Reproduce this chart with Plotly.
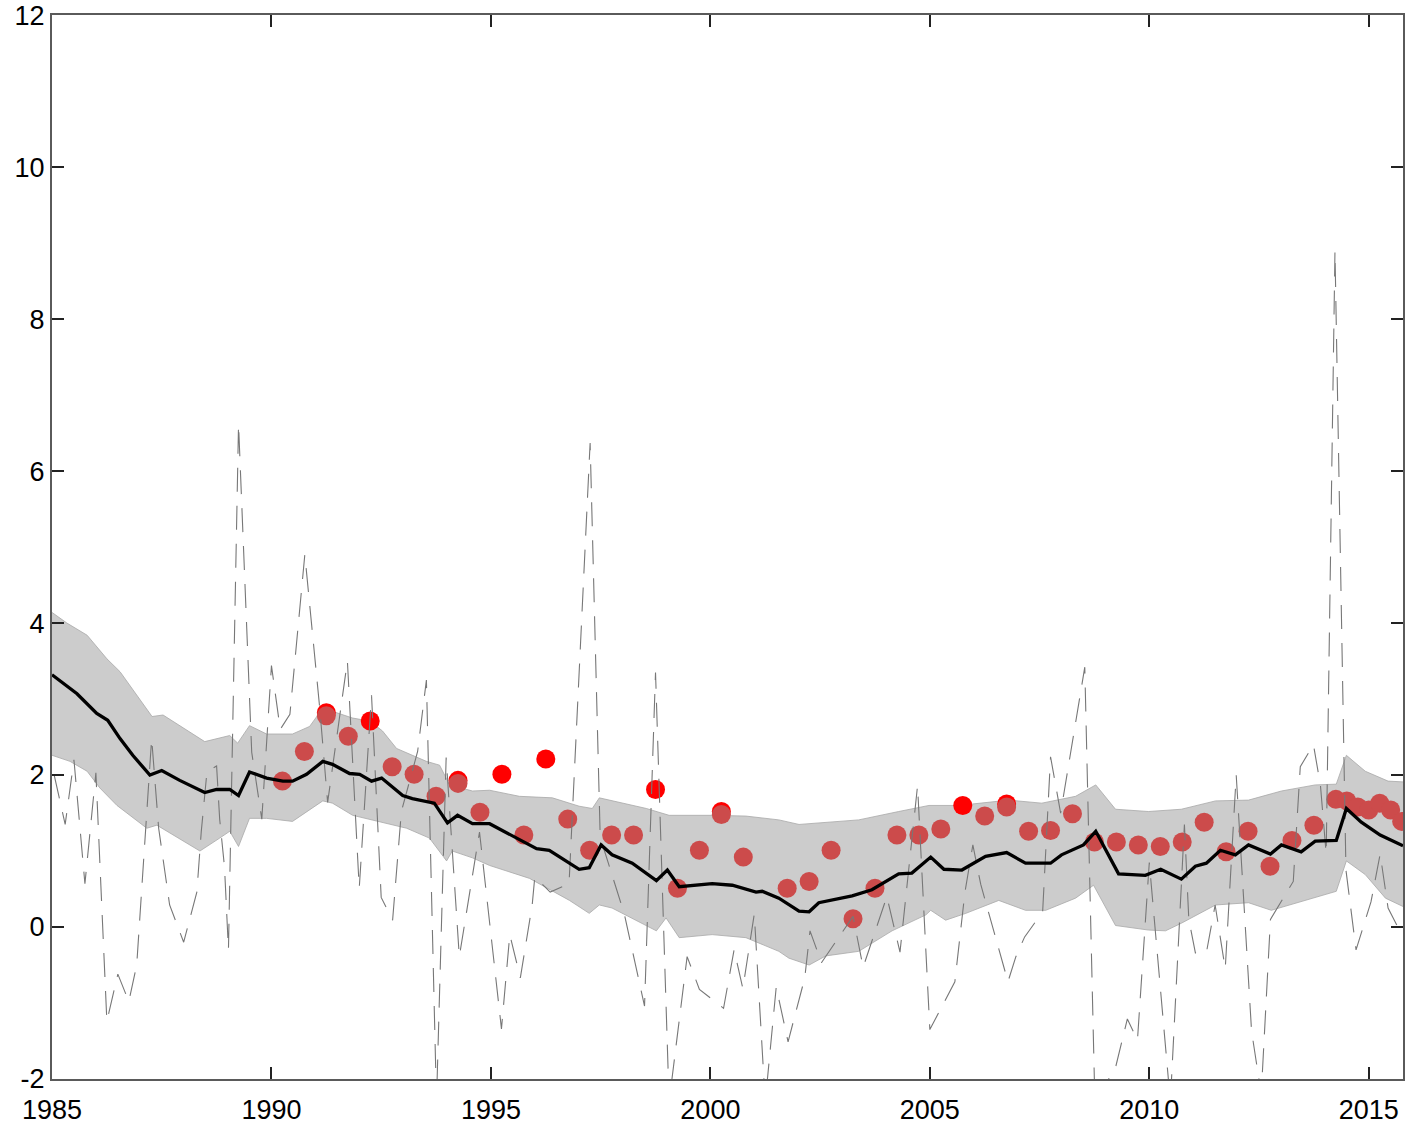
import plotly.graph_objects as go

# ---- data ----
mean_x = [1985.0, 1985.57, 1986.02, 1986.27, 1986.55, 1986.84, 1987.23, 1987.50, 1987.91, 1988.48,
          1988.75, 1989.05, 1989.25, 1989.50, 1989.89, 1990.26, 1990.48, 1990.80, 1991.17, 1991.39,
          1991.78, 1992.01, 1992.28, 1992.51, 1992.99, 1993.21, 1993.71, 1994.01, 1994.24, 1994.58,
          1994.97, 1995.58, 1996.04, 1996.33, 1997.01, 1997.24, 1997.51, 1997.76, 1998.22, 1998.77,
          1999.02, 1999.29, 2000.04, 2000.50, 2001.04, 2001.18, 2001.56, 2002.02, 2002.25, 2002.47,
          2003.23, 2003.68, 2004.29, 2004.59, 2005.02, 2005.32, 2005.73, 2006.27, 2006.75, 2007.18,
          2007.75, 2008.00, 2008.50, 2008.78, 2009.30, 2009.91, 2010.26, 2010.73, 2011.05, 2011.30,
          2011.62, 2011.96, 2012.26, 2012.76, 2013.01, 2013.46, 2013.78, 2014.26, 2014.49, 2014.83,
          2015.26, 2015.78]
mean_y = [3.32, 3.07, 2.81, 2.72, 2.48, 2.26, 2.00, 2.06, 1.93, 1.77,
          1.81, 1.81, 1.73, 2.04, 1.96, 1.92, 1.92, 2.01, 2.18, 2.14,
          2.02, 2.01, 1.92, 1.96, 1.73, 1.69, 1.63, 1.37, 1.47, 1.36,
          1.36, 1.17, 1.03, 1.01, 0.76, 0.78, 1.08, 0.95, 0.84, 0.61,
          0.75, 0.53, 0.57, 0.55, 0.46, 0.47, 0.38, 0.21, 0.20, 0.32,
          0.41, 0.49, 0.70, 0.71, 0.92, 0.76, 0.75, 0.93, 0.98, 0.84,
          0.84, 0.95, 1.08, 1.26, 0.70, 0.68, 0.76, 0.63, 0.80, 0.84,
          1.01, 0.95, 1.08, 0.96, 1.08, 0.99, 1.13, 1.14, 1.56, 1.38,
          1.21, 1.07]

upper_x = [1985.0, 1985.34, 1985.80, 1986.25, 1986.55, 1987.28, 1987.53, 1988.48, 1989.05, 1989.23,
           1989.50, 1989.89, 1990.48, 1990.87, 1991.17, 1991.39, 1991.85, 1992.24, 1992.53, 1992.85,
           1993.53, 1993.83, 1994.06, 1994.58, 1994.97, 1995.65, 1996.40, 1997.01, 1997.31, 1997.47,
           1997.76, 1998.54, 1999.06, 2000.04, 2000.81, 2001.56, 2002.02, 2003.38, 2004.29, 2004.98,
           2005.66, 2006.80, 2007.55, 2008.32, 2008.78, 2009.23, 2009.98, 2010.73, 2011.51, 2012.26,
           2013.01, 2013.78, 2014.26, 2014.49, 2014.92, 2015.44, 2015.78]
upper_y = [4.14, 4.00, 3.84, 3.53, 3.36, 2.77, 2.79, 2.44, 2.52, 2.42,
           2.65, 2.54, 2.54, 2.64, 2.88, 2.84, 2.75, 2.71, 2.58, 2.35,
           2.18, 2.13, 1.87, 1.79, 1.80, 1.72, 1.70, 1.59, 1.56, 1.70,
           1.66, 1.56, 1.47, 1.47, 1.46, 1.41, 1.35, 1.41, 1.52, 1.60,
           1.60, 1.67, 1.63, 1.72, 1.87, 1.55, 1.52, 1.55, 1.66, 1.67,
           1.79, 1.87, 1.88, 2.26, 2.05, 1.92, 1.91]

lower_x = [1985.0, 1985.41, 1985.80, 1986.09, 1986.48, 1987.16, 1987.39, 1988.37, 1988.82, 1989.05,
           1989.25, 1989.50, 1989.89, 1990.48, 1991.17, 1991.39, 1991.85, 1992.30, 1993.08, 1993.60,
           1993.99, 1994.12, 1994.58, 1994.97, 1995.88, 1996.79, 1997.24, 1997.47, 1997.76, 1998.77,
           1998.99, 1999.29, 2000.04, 2000.81, 2001.56, 2001.79, 2002.25, 2002.63, 2003.38, 2004.14,
           2004.91, 2005.02, 2005.36, 2005.82, 2006.57, 2007.18, 2007.64, 2008.32, 2008.73, 2009.23,
           2009.98, 2010.37, 2010.73, 2011.51, 2012.26, 2012.78, 2013.56, 2014.26, 2014.49, 2014.92,
           2015.38, 2015.78]
lower_y = [2.26, 2.18, 2.05, 1.83, 1.60, 1.30, 1.34, 1.00, 1.17, 1.26,
           1.06, 1.43, 1.43, 1.39, 1.66, 1.63, 1.47, 1.41, 1.30, 1.17,
           0.87, 1.00, 0.91, 0.81, 0.64, 0.35, 0.18, 0.29, 0.25, -0.05,
           0.12, -0.14, -0.10, -0.14, -0.32, -0.41, -0.50, -0.38, -0.32, -0.05,
           0.16, 0.22, 0.09, 0.18, 0.35, 0.22, 0.22, 0.38, 0.55, 0.02,
           -0.04, -0.05, 0.05, 0.29, 0.32, 0.22, 0.35, 0.47, 0.87, 0.69,
           0.38, 0.27]

raw_x = [1985.05, 1985.30, 1985.50, 1985.75, 1986.00, 1986.25, 1986.50, 1986.75, 1986.93, 1987.10,
         1987.27, 1987.43, 1987.68, 1988.00, 1988.30, 1988.40, 1988.53, 1988.75, 1988.82, 1988.93,
         1989.02, 1989.25, 1989.55, 1989.78, 1990.00, 1990.20, 1990.42, 1990.76, 1991.10, 1991.28,
         1991.73, 1992.00, 1992.28, 1992.50, 1992.76, 1992.96, 1993.33, 1993.53, 1993.76, 1993.98,
         1994.28, 1994.74, 1995.24, 1995.43, 1995.67, 1995.94, 1996.00, 1996.35, 1996.78, 1997.26,
         1997.49, 1998.04, 1998.50, 1998.75, 1999.06, 1999.47, 1999.75, 2000.30, 2000.54, 2000.74,
         2001.00, 2001.25, 2001.50, 2001.77, 2002.15, 2002.27, 2002.53, 2003.25, 2003.48, 2004.02,
         2004.13, 2004.32, 2004.72, 2005.00, 2005.57, 2005.80, 2005.98, 2006.16, 2006.78, 2006.96,
         2007.16, 2007.57, 2007.75, 2007.98, 2008.53, 2008.76, 2009.23, 2009.50, 2009.73, 2010.00,
         2010.48, 2010.80, 2010.90, 2011.05, 2011.30, 2011.50, 2011.73, 2011.98, 2012.33, 2012.55,
         2012.76, 2013.28, 2013.44, 2013.74, 2013.90, 2014.03, 2014.23, 2014.48, 2014.71, 2015.05,
         2015.26, 2015.44, 2015.75]
raw_y = [2.00, 1.35, 2.20, 0.57, 2.03, -1.24, -0.62, -0.98, -0.50, 1.00,
         2.48, 1.30, 0.29, -0.20, 0.46, 1.25, 2.04, 2.12, 1.42, 0.79,
         -0.30, 6.62, 2.30, 1.42, 3.44, 2.60, 2.80, 4.90, 2.88, 1.64,
         3.50, 0.51, 3.05, 0.39, 0.09, 1.52, 2.31, 3.25, -2.30, 2.23,
         -0.39, 1.25, -1.34, -0.10, -0.67, 0.29, 0.66, 0.46, 0.57, 6.37,
         1.18, 0.17, -1.04, 3.35, -2.30, -0.39, -0.82, -1.07, -0.30, -0.81,
         0.17, -2.30, -0.79, -1.51, -0.67, -0.05, -0.47, 0.14, -0.53, 0.40,
         0.12, -0.33, 1.86, -1.35, -0.72, 0.46, 1.08, 0.56, -0.72, -0.39,
         -0.13, 0.20, 2.24, 1.50, 3.42, -2.30, -1.85, -1.21, -1.49, 0.85,
         -2.30, 1.35, 0.10, -0.34, -0.34, 0.29, -0.55, 2.00, -1.37, -2.20,
         0.10, 0.60, 2.11, 2.40, 1.86, 0.96, 8.90, 0.75, -0.30, 0.33,
         0.96, 0.25, -0.10]

bright_x = [1991.25, 1992.25, 1994.25, 1995.25, 1996.25, 1998.75, 2000.25, 2005.75, 2006.75]
bright_y = [2.82, 2.71, 1.93, 2.01, 2.21, 1.81, 1.52, 1.60, 1.62]

obs_x = [1990.25, 1990.75, 1991.25, 1991.75, 1992.75, 1993.25, 1993.75, 1994.25, 1994.75, 1995.75,
         1996.75, 1997.25, 1997.75, 1998.25, 1999.25, 1999.75, 2000.25, 2000.75, 2001.75, 2002.25,
         2002.75, 2003.25, 2003.75, 2004.25, 2004.75, 2005.25, 2006.25, 2006.75, 2007.25, 2007.75,
         2008.25, 2008.75, 2009.25, 2009.75, 2010.25, 2010.75, 2011.25, 2011.75, 2012.25, 2012.75,
         2013.25, 2013.75, 2014.25, 2014.50, 2014.75, 2015.00, 2015.25, 2015.50, 2015.75]
obs_y = [1.92, 2.31, 2.78, 2.51, 2.11, 2.01, 1.72, 1.89, 1.51, 1.21,
         1.42, 1.01, 1.21, 1.21, 0.51, 1.01, 1.48, 0.92, 0.51, 0.60,
         1.01, 0.11, 0.51, 1.21, 1.21, 1.29, 1.46, 1.58, 1.26, 1.27,
         1.49, 1.12, 1.12, 1.08, 1.06, 1.12, 1.38, 0.99, 1.26, 0.80,
         1.14, 1.34, 1.68, 1.66, 1.58, 1.54, 1.63, 1.54, 1.39]

x_ticks = [1985, 1990, 1995, 2000, 2005, 2010, 2015]
y_ticks = [-2, 0, 2, 4, 6, 8, 10, 12]

fig = go.Figure()

# uncertainty band
fig.add_trace(go.Scatter(x=upper_x, y=upper_y, mode="lines",
                         line=dict(color="#a8a8a8", width=0.8), hoverinfo="skip"))
fig.add_trace(go.Scatter(x=lower_x, y=lower_y, mode="lines", fill="tonexty",
                         fillcolor="#cccccc",
                         line=dict(color="#a8a8a8", width=0.8), hoverinfo="skip"))

# observation dots
fig.add_trace(go.Scatter(x=bright_x, y=bright_y, mode="markers",
                         marker=dict(color="#ff0000", size=19, line=dict(width=0))))
fig.add_trace(go.Scatter(x=obs_x, y=obs_y, mode="markers",
                         marker=dict(color="#cc4b4b", size=19, line=dict(width=0))))

# raw noisy series
fig.add_trace(go.Scatter(x=raw_x, y=raw_y, mode="lines",
                         line=dict(color="#777777", width=1.1, dash="24px,14px")))

# smoothed mean
fig.add_trace(go.Scatter(x=mean_x, y=mean_y, mode="lines",
                         line=dict(color="#000000", width=3.3)))

axis_common = dict(
    showgrid=False, zeroline=False, showline=True, linecolor="#5a5a5a", linewidth=2,
    mirror="ticks", ticks="inside", ticklen=12, tickwidth=1.5, tickcolor="#222222",
    ticklabeloverflow="allow",
    tickfont=dict(family="Liberation Sans, Arial, sans-serif", size=27, color="#000000"),
)

fig.update_layout(
    width=1406, height=1127,
    margin=dict(l=52, r=1, t=14, b=48),
    paper_bgcolor="white", plot_bgcolor="white",
    showlegend=False,
    xaxis=dict(range=[1985, 2015.78], tickvals=x_ticks, ticktext=[str(v) for v in x_ticks],
               ticklabelstandoff=6, **axis_common),
    yaxis=dict(range=[-2, 12.002], tickvals=y_ticks, ticktext=[str(v) for v in y_ticks],
               **axis_common),
)

fig.write_html("out.html")
